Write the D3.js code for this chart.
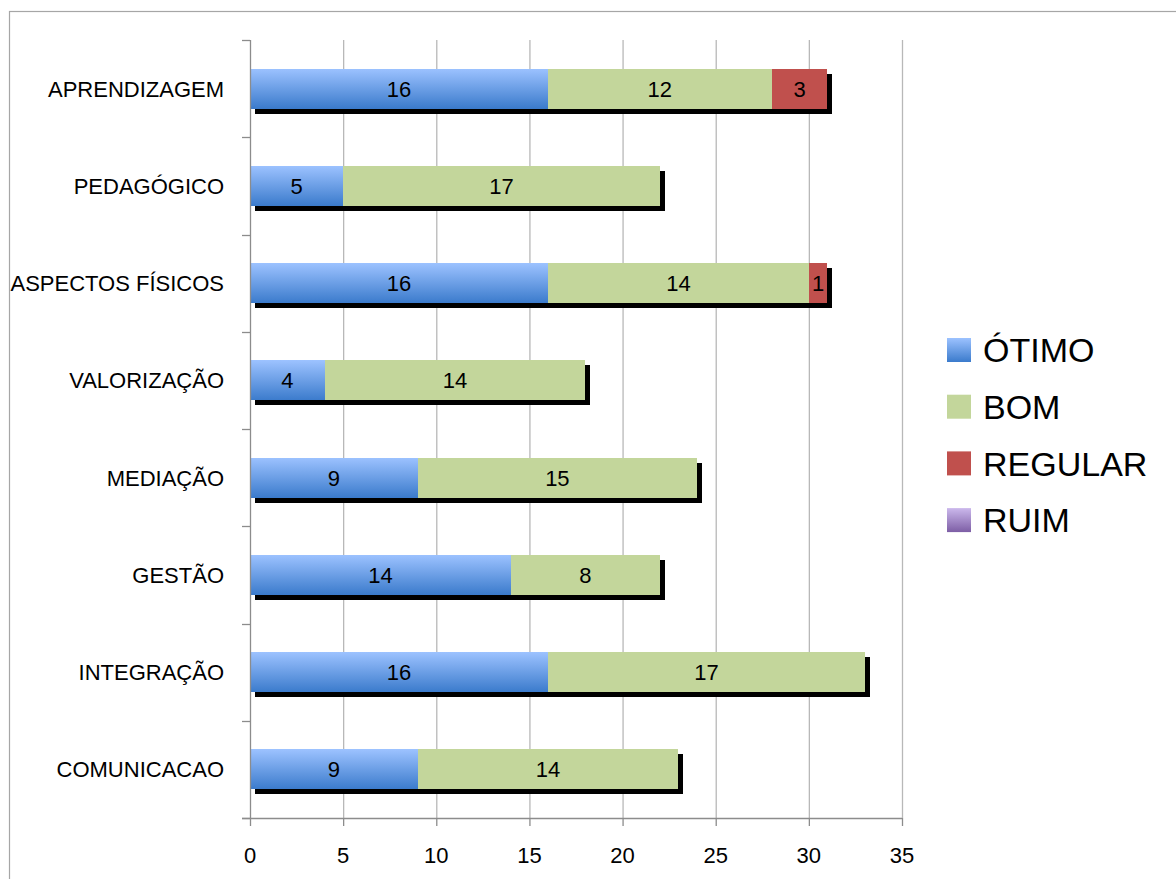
<!DOCTYPE html>
<html>
<head>
<meta charset="utf-8">
<script src="https://cdn.jsdelivr.net/npm/d3@7"></script>
<style>
  html, body { margin: 0; padding: 0; background: #fff; }
  svg { display: block; }
  text { font-family: 'Liberation Sans', Arial, sans-serif; fill: #000; }
</style>
</head>
<body>
<div id="chart"></div>
<script>
  // categories top to bottom
  const categories = ['APRENDIZAGEM', 'PEDAGÓGICO', 'ASPECTOS FÍSICOS', 'VALORIZAÇÃO',
    'MEDIAÇÃO', 'GESTÃO', 'INTEGRAÇÃO', 'COMUNICACAO'];
  const seriesNames = ['ÓTIMO', 'BOM', 'REGULAR', 'RUIM'];
  const otimo   = [16, 5, 16, 4, 9, 14, 16, 9];
  const bom     = [12, 17, 14, 14, 15, 8, 17, 14];
  const regular = [3, 0, 1, 0, 0, 0, 0, 0];
  const ruim    = [0, 0, 0, 0, 0, 0, 0, 0];
  const xTicks  = [0, 5, 10, 15, 20, 25, 30, 35];

  const W = 1176, H = 879;
  const margin = { top: 40, left: 250, right: 274, bottom: 61 };
  const width = W - margin.left - margin.right;
  const height = H - margin.top - margin.bottom;

  const svg = d3.select('#chart').append('svg')
    .attr('width', W).attr('height', H);

  const defs = svg.append('defs');
  function vGrad(id, top, bottom) {
    const g = defs.append('linearGradient').attr('id', id)
      .attr('x1', 0).attr('y1', 0).attr('x2', 0).attr('y2', 1);
    g.append('stop').attr('offset', '0%').attr('stop-color', top);
    g.append('stop').attr('offset', '100%').attr('stop-color', bottom);
  }
  vGrad('g-otimo', '#9cc2ff', '#3b7bcc');
  vGrad('g-ruim', '#cbb8ec', '#7d5ea5');
  const fills = ['url(#g-otimo)', '#c3d69b', '#c0504d', 'url(#g-ruim)'];

  // outer chart frame
  svg.append('rect')
    .attr('x', 9.5).attr('y', 11.5)
    .attr('width', W + 20).attr('height', H + 20)
    .attr('fill', 'none').attr('stroke', '#a6a6a6').attr('stroke-width', 1.2);

  const g = svg.append('g').attr('transform', `translate(${margin.left},${margin.top})`);

  const x = d3.scaleLinear().domain([0, 35]).range([0, width]);
  const y = d3.scaleBand().domain(categories).range([0, height])
    .paddingInner(0.59).paddingOuter(0.295);

  // vertical gridlines
  g.append('g').selectAll('line')
    .data(xTicks.slice(1))
    .enter().append('line')
    .attr('x1', d => x(d) + 0.5).attr('x2', d => x(d) + 0.5)
    .attr('y1', 0).attr('y2', height)
    .attr('stroke', '#b8b8b8').attr('stroke-width', 1.3);

  const rows = categories.map((c, i) => ({
    cat: c, 'ÓTIMO': otimo[i], 'BOM': bom[i], 'REGULAR': regular[i], 'RUIM': ruim[i]
  }));
  const layers = d3.stack().keys(seriesNames)(rows);
  const totals = rows.map(r => d3.sum(seriesNames, k => r[k]));

  // drop shadow under each whole bar
  const sh = 5;
  g.append('g').selectAll('rect')
    .data(rows).enter().append('rect')
    .attr('x', x(0) + sh)
    .attr('y', d => y(d.cat) + sh)
    .attr('width', (d, i) => x(totals[i]) - x(0))
    .attr('height', y.bandwidth())
    .attr('fill', '#000')
    .attr('shape-rendering', 'crispEdges');

  // segments
  const seg = g.append('g').selectAll('g')
    .data(layers).enter().append('g')
    .attr('fill', (d, i) => fills[i]);
  seg.selectAll('rect')
    .data(d => d.filter(p => p[1] > p[0]))
    .enter().append('rect')
    .attr('x', d => Math.round(x(d[0])))
    .attr('y', d => y(d.data.cat))
    .attr('width', d => Math.round(x(d[1])) - Math.round(x(d[0])))
    .attr('height', y.bandwidth())
    .attr('shape-rendering', 'crispEdges');
  seg.selectAll('text')
    .data(d => d.filter(p => p[1] > p[0]))
    .enter().append('text')
    .attr('x', d => (x(d[0]) + x(d[1])) / 2)
    .attr('y', d => y(d.data.cat) + y.bandwidth() / 2)
    .attr('dy', '0.36em')
    .attr('text-anchor', 'middle')
    .style('font-size', '22px')
    .text(d => d[1] - d[0]);

  // y axis
  const yAxis = g.append('g');
  yAxis.append('line')
    .attr('x1', 0.5).attr('x2', 0.5).attr('y1', 0).attr('y2', height)
    .attr('stroke', '#8c8c8c').attr('stroke-width', 1.3);
  const step = y.step();
  yAxis.selectAll('.ytick')
    .data(d3.range(categories.length + 1))
    .enter().append('line')
    .attr('x1', -8).attr('x2', 0)
    .attr('y1', d => Math.round(d * step) + 0.5).attr('y2', d => Math.round(d * step) + 0.5)
    .attr('stroke', '#8c8c8c').attr('stroke-width', 1.3);
  yAxis.selectAll('.ylab')
    .data(categories)
    .enter().append('text')
    .attr('x', -26)
    .attr('y', d => y(d) + y.bandwidth() / 2)
    .attr('dy', '0.36em')
    .attr('text-anchor', 'end')
    .style('font-size', '22px')
    .text(d => d);

  // x axis
  const xAxis = g.append('g').attr('transform', `translate(0,${height})`);
  xAxis.append('line')
    .attr('x1', -8).attr('x2', width).attr('y1', 0.5).attr('y2', 0.5)
    .attr('stroke', '#8c8c8c').attr('stroke-width', 1.3);
  xAxis.selectAll('.xtick')
    .data(xTicks).enter().append('line')
    .attr('x1', d => x(d) + 0.5).attr('x2', d => x(d) + 0.5)
    .attr('y1', 0).attr('y2', 8)
    .attr('stroke', '#8c8c8c').attr('stroke-width', 1.3);
  xAxis.selectAll('.xlab')
    .data(xTicks).enter().append('text')
    .attr('x', d => x(d))
    .attr('y', 45)
    .attr('text-anchor', 'middle')
    .style('font-size', '22px')
    .text(d => d);

  // legend
  const legend = svg.append('g').attr('transform', 'translate(947,350)');
  const li = legend.selectAll('g')
    .data(seriesNames).enter().append('g')
    .attr('transform', (d, i) => `translate(0,${i * 56.7})`);
  li.append('rect')
    .attr('x', 0).attr('y', -12).attr('width', 24).attr('height', 24)
    .attr('fill', (d, i) => fills[i]);
  li.append('text')
    .attr('x', 36).attr('y', 0).attr('dy', '0.36em')
    .style('font-size', '34px')
    .text(d => d);
</script>
</body>
</html>
